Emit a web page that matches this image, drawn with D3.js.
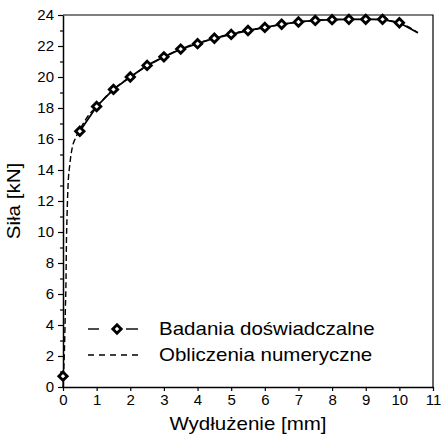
<!DOCTYPE html>
<html>
  <head>
    <meta charset="utf-8" />
    <title>Siła - wydłużenie</title>
    <style>
      body,
      html {
        margin: 0;
        padding: 0;
        background: #fff;
      }
      text {
        font-family: 'Liberation Sans', Arial, sans-serif;
        fill: #000;
      }
    </style>
  </head>
  <body>
    <script src="https://cdn.jsdelivr.net/npm/d3@7"></script>
    <script>
      // experimental points (markers)
      const expX = [0, 0.5, 1, 1.5, 2, 2.5, 3, 3.5, 4, 4.5, 5, 5.5, 6, 6.5, 7, 7.5, 8, 8.5, 9, 9.5, 10];
      const expY = [0.7, 16.5, 18.1, 19.2, 20.0, 20.75, 21.3, 21.8, 22.15, 22.5, 22.75, 23.0, 23.2, 23.4, 23.55, 23.65, 23.7, 23.72, 23.72, 23.72, 23.5];
      const expTail = [10.55, 22.85];

      // numerical curve
      const numX = [0, 0.02, 0.05, 0.07, 0.09, 0.1, 0.12, 0.15, 0.2, 0.28, 0.36, 0.5, 0.75, 1, 1.5, 2, 2.5, 3, 3.5, 4, 4.5, 5, 5.5, 6, 6.5, 7, 7.5, 8, 8.5, 9, 9.5, 10, 10.3, 10.55];
      const numY = [0, 1, 3, 5, 7, 9, 11, 13, 14.3, 15.5, 16.0, 16.6, 17.5, 18.1, 19.2, 20.0, 20.7, 21.3, 21.8, 22.2, 22.5, 22.8, 23.0, 23.2, 23.4, 23.55, 23.65, 23.7, 23.72, 23.72, 23.68, 23.5, 23.2, 22.85];

      const xTicks = [0, 1, 2, 3, 4, 5, 6, 7, 8, 9, 10, 11];
      const yTicks = [0, 2, 4, 6, 8, 10, 12, 14, 16, 18, 20, 22, 24];
      const yMinor = [1, 3, 5, 7, 9, 11, 13, 15, 17, 19, 21, 23];

      const legendLabels = ['Badania doświadczalne', 'Obliczenia numeryczne'];
      const xTitle = 'Wydłużenie [mm]';
      const yTitle = 'Siła [kN]';

      const width = 441;
      const height = 436;
      const margin = { top: 15, right: 8, bottom: 49, left: 63 };
      const stretch = 1.14; // the original labels are a bit wider than Arial

      const svg = d3
        .select('body')
        .append('svg')
        .attr('width', width)
        .attr('height', height);

      const x = d3.scaleLinear().domain([0, 11]).range([margin.left, width - margin.right]);
      const y = d3.scaleLinear().domain([0, 24]).range([height - margin.bottom, margin.top]);

      // frame (top + right)
      svg.append('path')
        .attr('d', `M${x(0)},${y(24)}H${x(11)}V${y(0)}`)
        .attr('fill', 'none')
        .attr('stroke', '#000')
        .attr('stroke-width', 1.2);

      // x axis
      const xAxis = svg.append('g')
        .attr('transform', `translate(0,${y(0)})`)
        .call(d3.axisBottom(x).tickValues(xTicks).tickSize(4).tickSizeOuter(0).tickPadding(3));
      xAxis.select('.domain').attr('stroke-width', 1.5);
      xAxis.selectAll('.tick line').attr('stroke-width', 1.2);
      xAxis.selectAll('.tick text').style('font-size', '15px').style('font-family', null);

      // y axis
      const yAxis = svg.append('g')
        .attr('transform', `translate(${x(0)},0)`)
        .call(d3.axisLeft(y).tickValues(yTicks).tickSize(5).tickSizeOuter(0).tickPadding(4));
      yAxis.select('.domain').attr('stroke-width', 1.5);
      yAxis.selectAll('.tick line').attr('stroke-width', 1.2);
      yAxis.selectAll('.tick text').style('font-size', '15px').style('font-family', null);

      svg.append('g')
        .attr('transform', `translate(${x(0)},0)`)
        .call(d3.axisLeft(y).tickValues(yMinor).tickSize(3).tickFormat(''))
        .call((g) => g.select('.domain').remove())
        .selectAll('.tick line').attr('stroke-width', 1.2);

      // axis titles
      svg.append('text')
        .attr('transform', `translate(${(x(0) + x(11)) / 2},430) scale(${stretch},1)`)
        .attr('text-anchor', 'middle')
        .style('font-size', '18px')
        .text(xTitle);

      svg.append('text')
        .attr('transform', `translate(20,${(y(0) + y(24)) / 2}) rotate(-90) scale(${stretch},1)`)
        .attr('text-anchor', 'middle')
        .style('font-size', '18px')
        .text(yTitle);

      // numerical curve (dashed)
      const numData = numX.map((d, i) => [d, numY[i]]);
      svg.append('path')
        .datum(numData)
        .attr('fill', 'none')
        .attr('stroke', '#000')
        .attr('stroke-width', 1.4)
        .attr('stroke-dasharray', '6,3')
        .attr('d', d3.line().x((d) => x(d[0])).y((d) => y(d[1])).curve(d3.curveMonotoneX));

      // experimental line
      const expData = expX.map((d, i) => [d, expY[i]]);
      const expLine = expData.slice(1).concat([expTail]);
      svg.append('path')
        .datum(expLine)
        .attr('fill', 'none')
        .attr('stroke', '#000')
        .attr('stroke-width', 1.8)
        .attr('d', d3.line().x((d) => x(d[0])).y((d) => y(d[1])));

      const diamond = (cx, cy, r) => `M${cx},${cy - r}L${cx + r},${cy}L${cx},${cy + r}L${cx - r},${cy}Z`;

      svg.append('g')
        .selectAll('path')
        .data(expData)
        .enter()
        .append('path')
        .attr('d', (d) => diamond(x(d[0]), y(d[1]), 4.2))
        .attr('fill', '#fff')
        .attr('stroke', '#000')
        .attr('stroke-width', 2.8);

      // legend
      const lg = svg.append('g');
      const ly = [329, 355];
      lg.append('line').attr('x1', 88).attr('x2', 99).attr('y1', ly[0]).attr('y2', ly[0])
        .attr('stroke', '#000').attr('stroke-width', 1.4);
      lg.append('line').attr('x1', 126).attr('x2', 138).attr('y1', ly[0]).attr('y2', ly[0])
        .attr('stroke', '#000').attr('stroke-width', 1.4);
      lg.append('path').attr('d', diamond(117, ly[0], 4.2))
        .attr('fill', '#fff').attr('stroke', '#000').attr('stroke-width', 2.8);
      lg.append('line').attr('x1', 88).attr('x2', 143).attr('y1', ly[1]).attr('y2', ly[1])
        .attr('stroke', '#000').attr('stroke-width', 1.4).attr('stroke-dasharray', '6,5');
      lg.selectAll('text')
        .data(legendLabels)
        .enter()
        .append('text')
        .attr('transform', (d, i) => `translate(159,${ly[i] + 6}) scale(${stretch},1)`)
        .style('font-size', '18px')
        .text((d) => d);
    </script>
  </body>
</html>
